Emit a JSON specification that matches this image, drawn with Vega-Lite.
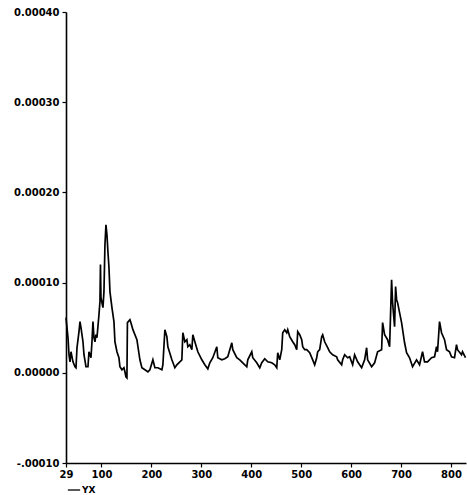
{
  "$schema": "https://vega.github.io/schema/vega-lite/v6.json",
  "autosize": "none",
  "width": 400,
  "height": 451,
  "padding": {"left": 66, "top": 12, "right": 1, "bottom": 32},
  "background": "white",
  "config": {
    "view": {"stroke": null},
    "font": "DejaVu Sans",
    "axis": {
      "grid": false,
      "domainColor": "black",
      "domainWidth": 1.6,
      "tickColor": "black",
      "tickWidth": 1.2,
      "tickSize": 4,
      "labelFont": "DejaVu Sans",
      "labelFontWeight": "bold",
      "labelFontSize": 10,
      "labelColor": "black",
      "title": null
    }
  },
  "data": {
    "values": [
      {"obs": 29, "value": 0.0000611, "series": "YX"},
      {"obs": 33, "value": 0.0000389, "series": "YX"},
      {"obs": 35, "value": 0.0000200, "series": "YX"},
      {"obs": 37, "value": 0.0000122, "series": "YX"},
      {"obs": 39, "value": 0.0000233, "series": "YX"},
      {"obs": 43, "value": 0.0000122, "series": "YX"},
      {"obs": 47, "value": 0.0000067, "series": "YX"},
      {"obs": 49, "value": 0.0000056, "series": "YX"},
      {"obs": 51, "value": 0.0000278, "series": "YX"},
      {"obs": 55, "value": 0.0000456, "series": "YX"},
      {"obs": 57, "value": 0.0000567, "series": "YX"},
      {"obs": 59, "value": 0.0000500, "series": "YX"},
      {"obs": 63, "value": 0.0000344, "series": "YX"},
      {"obs": 65, "value": 0.0000200, "series": "YX"},
      {"obs": 69, "value": 0.0000067, "series": "YX"},
      {"obs": 73, "value": 0.0000067, "series": "YX"},
      {"obs": 75, "value": 0.0000233, "series": "YX"},
      {"obs": 79, "value": 0.0000167, "series": "YX"},
      {"obs": 81, "value": 0.0000344, "series": "YX"},
      {"obs": 83, "value": 0.0000567, "series": "YX"},
      {"obs": 85, "value": 0.0000389, "series": "YX"},
      {"obs": 87, "value": 0.0000344, "series": "YX"},
      {"obs": 89, "value": 0.0000422, "series": "YX"},
      {"obs": 91, "value": 0.0000389, "series": "YX"},
      {"obs": 95, "value": 0.0000644, "series": "YX"},
      {"obs": 97, "value": 0.0000789, "series": "YX"},
      {"obs": 98, "value": 0.0001200, "series": "YX"},
      {"obs": 99, "value": 0.0000833, "series": "YX"},
      {"obs": 103, "value": 0.0000722, "series": "YX"},
      {"obs": 105, "value": 0.0000900, "series": "YX"},
      {"obs": 107, "value": 0.0001420, "series": "YX"},
      {"obs": 109, "value": 0.0001640, "series": "YX"},
      {"obs": 111, "value": 0.0001530, "series": "YX"},
      {"obs": 113, "value": 0.0001340, "series": "YX"},
      {"obs": 115, "value": 0.0001170, "series": "YX"},
      {"obs": 117, "value": 0.0000900, "series": "YX"},
      {"obs": 121, "value": 0.0000722, "series": "YX"},
      {"obs": 125, "value": 0.0000567, "series": "YX"},
      {"obs": 127, "value": 0.0000344, "series": "YX"},
      {"obs": 131, "value": 0.0000233, "series": "YX"},
      {"obs": 135, "value": 0.0000167, "series": "YX"},
      {"obs": 137, "value": 0.0000067, "series": "YX"},
      {"obs": 141, "value": 0.0000033, "series": "YX"},
      {"obs": 145, "value": 0.0000056, "series": "YX"},
      {"obs": 147, "value": 0.0000011, "series": "YX"},
      {"obs": 149, "value": -0.0000044, "series": "YX"},
      {"obs": 151, "value": -0.0000056, "series": "YX"},
      {"obs": 152, "value": 0.0000556, "series": "YX"},
      {"obs": 157, "value": 0.0000589, "series": "YX"},
      {"obs": 159, "value": 0.0000556, "series": "YX"},
      {"obs": 163, "value": 0.0000478, "series": "YX"},
      {"obs": 171, "value": 0.0000367, "series": "YX"},
      {"obs": 177, "value": 0.0000144, "series": "YX"},
      {"obs": 181, "value": 0.0000056, "series": "YX"},
      {"obs": 187, "value": 0.0000033, "series": "YX"},
      {"obs": 193, "value": 0.0000011, "series": "YX"},
      {"obs": 197, "value": 0.0000033, "series": "YX"},
      {"obs": 203, "value": 0.0000144, "series": "YX"},
      {"obs": 207, "value": 0.0000056, "series": "YX"},
      {"obs": 213, "value": 0.0000056, "series": "YX"},
      {"obs": 221, "value": 0.0000033, "series": "YX"},
      {"obs": 223, "value": 0.0000089, "series": "YX"},
      {"obs": 227, "value": 0.0000478, "series": "YX"},
      {"obs": 231, "value": 0.0000400, "series": "YX"},
      {"obs": 233, "value": 0.0000289, "series": "YX"},
      {"obs": 241, "value": 0.0000144, "series": "YX"},
      {"obs": 247, "value": 0.0000056, "series": "YX"},
      {"obs": 251, "value": 0.0000089, "series": "YX"},
      {"obs": 257, "value": 0.0000122, "series": "YX"},
      {"obs": 261, "value": 0.0000144, "series": "YX"},
      {"obs": 263, "value": 0.0000444, "series": "YX"},
      {"obs": 267, "value": 0.0000344, "series": "YX"},
      {"obs": 271, "value": 0.0000367, "series": "YX"},
      {"obs": 273, "value": 0.0000289, "series": "YX"},
      {"obs": 277, "value": 0.0000311, "series": "YX"},
      {"obs": 281, "value": 0.0000256, "series": "YX"},
      {"obs": 283, "value": 0.0000422, "series": "YX"},
      {"obs": 287, "value": 0.0000344, "series": "YX"},
      {"obs": 293, "value": 0.0000233, "series": "YX"},
      {"obs": 301, "value": 0.0000144, "series": "YX"},
      {"obs": 307, "value": 0.0000089, "series": "YX"},
      {"obs": 313, "value": 0.0000044, "series": "YX"},
      {"obs": 317, "value": 0.0000111, "series": "YX"},
      {"obs": 323, "value": 0.0000167, "series": "YX"},
      {"obs": 331, "value": 0.0000289, "series": "YX"},
      {"obs": 333, "value": 0.0000167, "series": "YX"},
      {"obs": 341, "value": 0.0000144, "series": "YX"},
      {"obs": 347, "value": 0.0000156, "series": "YX"},
      {"obs": 353, "value": 0.0000178, "series": "YX"},
      {"obs": 361, "value": 0.0000333, "series": "YX"},
      {"obs": 363, "value": 0.0000256, "series": "YX"},
      {"obs": 371, "value": 0.0000167, "series": "YX"},
      {"obs": 377, "value": 0.0000144, "series": "YX"},
      {"obs": 383, "value": 0.0000111, "series": "YX"},
      {"obs": 391, "value": 0.0000067, "series": "YX"},
      {"obs": 393, "value": 0.0000144, "series": "YX"},
      {"obs": 401, "value": 0.0000233, "series": "YX"},
      {"obs": 403, "value": 0.0000167, "series": "YX"},
      {"obs": 411, "value": 0.0000111, "series": "YX"},
      {"obs": 417, "value": 0.0000056, "series": "YX"},
      {"obs": 421, "value": 0.0000111, "series": "YX"},
      {"obs": 427, "value": 0.0000156, "series": "YX"},
      {"obs": 433, "value": 0.0000122, "series": "YX"},
      {"obs": 441, "value": 0.0000111, "series": "YX"},
      {"obs": 447, "value": 0.0000089, "series": "YX"},
      {"obs": 451, "value": 0.0000056, "series": "YX"},
      {"obs": 453, "value": 0.0000222, "series": "YX"},
      {"obs": 457, "value": 0.0000144, "series": "YX"},
      {"obs": 461, "value": 0.0000256, "series": "YX"},
      {"obs": 463, "value": 0.0000444, "series": "YX"},
      {"obs": 467, "value": 0.0000478, "series": "YX"},
      {"obs": 471, "value": 0.0000444, "series": "YX"},
      {"obs": 473, "value": 0.0000478, "series": "YX"},
      {"obs": 477, "value": 0.0000400, "series": "YX"},
      {"obs": 483, "value": 0.0000344, "series": "YX"},
      {"obs": 487, "value": 0.0000311, "series": "YX"},
      {"obs": 491, "value": 0.0000256, "series": "YX"},
      {"obs": 493, "value": 0.0000456, "series": "YX"},
      {"obs": 497, "value": 0.0000422, "series": "YX"},
      {"obs": 501, "value": 0.0000367, "series": "YX"},
      {"obs": 503, "value": 0.0000289, "series": "YX"},
      {"obs": 507, "value": 0.0000256, "series": "YX"},
      {"obs": 511, "value": 0.0000256, "series": "YX"},
      {"obs": 517, "value": 0.0000222, "series": "YX"},
      {"obs": 523, "value": 0.0000144, "series": "YX"},
      {"obs": 527, "value": 0.0000089, "series": "YX"},
      {"obs": 531, "value": 0.0000167, "series": "YX"},
      {"obs": 533, "value": 0.0000233, "series": "YX"},
      {"obs": 537, "value": 0.0000256, "series": "YX"},
      {"obs": 541, "value": 0.0000400, "series": "YX"},
      {"obs": 543, "value": 0.0000422, "series": "YX"},
      {"obs": 547, "value": 0.0000344, "series": "YX"},
      {"obs": 553, "value": 0.0000278, "series": "YX"},
      {"obs": 557, "value": 0.0000233, "series": "YX"},
      {"obs": 563, "value": 0.0000200, "series": "YX"},
      {"obs": 571, "value": 0.0000178, "series": "YX"},
      {"obs": 573, "value": 0.0000144, "series": "YX"},
      {"obs": 581, "value": 0.0000089, "series": "YX"},
      {"obs": 583, "value": 0.0000144, "series": "YX"},
      {"obs": 587, "value": 0.0000200, "series": "YX"},
      {"obs": 593, "value": 0.0000167, "series": "YX"},
      {"obs": 597, "value": 0.0000178, "series": "YX"},
      {"obs": 603, "value": 0.0000089, "series": "YX"},
      {"obs": 607, "value": 0.0000200, "series": "YX"},
      {"obs": 613, "value": 0.0000122, "series": "YX"},
      {"obs": 621, "value": 0.0000056, "series": "YX"},
      {"obs": 627, "value": 0.0000144, "series": "YX"},
      {"obs": 631, "value": 0.0000278, "series": "YX"},
      {"obs": 633, "value": 0.0000144, "series": "YX"},
      {"obs": 641, "value": 0.0000067, "series": "YX"},
      {"obs": 647, "value": 0.0000111, "series": "YX"},
      {"obs": 653, "value": 0.0000233, "series": "YX"},
      {"obs": 661, "value": 0.0000256, "series": "YX"},
      {"obs": 663, "value": 0.0000556, "series": "YX"},
      {"obs": 667, "value": 0.0000422, "series": "YX"},
      {"obs": 673, "value": 0.0000367, "series": "YX"},
      {"obs": 677, "value": 0.0000289, "series": "YX"},
      {"obs": 681, "value": 0.0001030, "series": "YX"},
      {"obs": 683, "value": 0.0000778, "series": "YX"},
      {"obs": 687, "value": 0.0000511, "series": "YX"},
      {"obs": 689, "value": 0.0000956, "series": "YX"},
      {"obs": 691, "value": 0.0000811, "series": "YX"},
      {"obs": 693, "value": 0.0000778, "series": "YX"},
      {"obs": 701, "value": 0.0000556, "series": "YX"},
      {"obs": 707, "value": 0.0000333, "series": "YX"},
      {"obs": 711, "value": 0.0000222, "series": "YX"},
      {"obs": 717, "value": 0.0000167, "series": "YX"},
      {"obs": 723, "value": 0.0000067, "series": "YX"},
      {"obs": 731, "value": 0.0000144, "series": "YX"},
      {"obs": 737, "value": 0.0000089, "series": "YX"},
      {"obs": 743, "value": 0.0000233, "series": "YX"},
      {"obs": 747, "value": 0.0000122, "series": "YX"},
      {"obs": 753, "value": 0.0000122, "series": "YX"},
      {"obs": 761, "value": 0.0000167, "series": "YX"},
      {"obs": 767, "value": 0.0000178, "series": "YX"},
      {"obs": 771, "value": 0.0000289, "series": "YX"},
      {"obs": 773, "value": 0.0000233, "series": "YX"},
      {"obs": 777, "value": 0.0000567, "series": "YX"},
      {"obs": 781, "value": 0.0000444, "series": "YX"},
      {"obs": 787, "value": 0.0000367, "series": "YX"},
      {"obs": 791, "value": 0.0000256, "series": "YX"},
      {"obs": 797, "value": 0.0000233, "series": "YX"},
      {"obs": 801, "value": 0.0000178, "series": "YX"},
      {"obs": 807, "value": 0.0000167, "series": "YX"},
      {"obs": 811, "value": 0.0000311, "series": "YX"},
      {"obs": 813, "value": 0.0000256, "series": "YX"},
      {"obs": 821, "value": 0.0000200, "series": "YX"},
      {"obs": 823, "value": 0.0000233, "series": "YX"},
      {"obs": 829, "value": 0.0000167, "series": "YX"}
    ]
  },
  "mark": {"type": "line", "strokeWidth": 1.7, "interpolate": "linear", "strokeJoin": "miter"},
  "encoding": {
    "x": {
      "field": "obs",
      "type": "quantitative",
      "scale": {"domain": [29, 830], "nice": false, "zero": false},
      "axis": {
        "values": [29, 100, 200, 300, 400, 500, 600, 700, 800],
        "format": "d",
        "labelPadding": 2,
        "labelFlush": false
      }
    },
    "y": {
      "field": "value",
      "type": "quantitative",
      "scale": {"domain": [-0.0001, 0.0004], "nice": false},
      "axis": {
        "values": [-0.0001, 0, 0.0001, 0.0002, 0.0003, 0.0004],
        "labelExpr": "datum.value < 0 ? '-.00010' : format(datum.value, '.5f')",
        "labelPadding": 3,
        "labelFlush": false
      }
    },
    "color": {
      "field": "series",
      "type": "nominal",
      "scale": {"range": ["black"]},
      "legend": {
        "title": null,
        "orient": "none",
        "legendX": 1,
        "legendY": 471,
        "symbolType": "stroke",
        "symbolStrokeWidth": 1.3,
        "symbolSize": 150,
        "labelFont": "DejaVu Sans",
        "labelFontWeight": "bold",
        "labelFontSize": 9,
        "labelColor": "black",
        "labelOffset": 1,
        "padding": 0
      }
    }
  }
}
